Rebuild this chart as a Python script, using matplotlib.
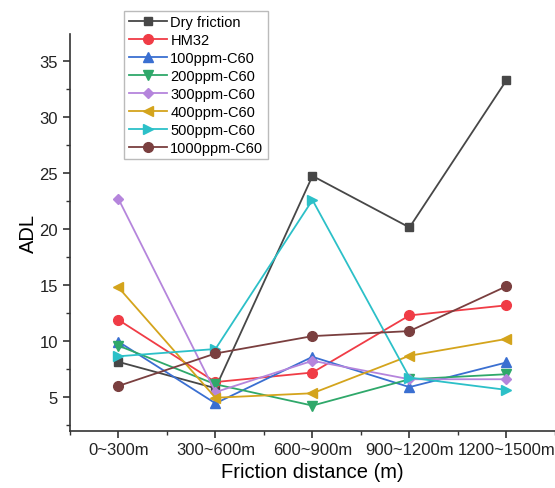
import numpy as np
from matplotlib import pyplot as plt
from matplotlib.ticker import MultipleLocator

plt.rcParams['font.family'] = ['Liberation Sans', 'DejaVu Sans']

#Data:
categories = ["0~300m", "300~600m", "600~900m", "900~1200m", "1200~1500m"]
dry = [8.15, 5.8, 24.75, 20.15, 33.3]
hm32 = [11.9, 6.35, 7.2, 12.3, 13.2]
c100 = [9.95, 4.45, 8.6, 5.9, 8.1]
c200 = [9.6, 6.15, 4.25, 6.6, 7.05]
c300 = [22.7, 5.45, 8.25, 6.6, 6.6]
c400 = [14.8, 4.95, 5.35, 8.7, 10.2]
c500 = [8.65, 9.3, 22.6, 6.75, 5.65]
c1000 = [6.0, 8.9, 10.45, 10.9, 14.9]

names = ["Dry friction", "HM32", "100ppm-C60", "200ppm-C60", "300ppm-C60",
         "400ppm-C60", "500ppm-C60", "1000ppm-C60"]
series = [dry, hm32, c100, c200, c300, c400, c500, c1000]
colors = ["#474747", "#f03c46", "#3a6fd1", "#2fa86a", "#b585dc",
          "#d4a41c", "#2cc0c8", "#7a3f3f"]
markers = ["s", "o", "^", "v", "D", "<", ">", "o"]
msizes = [5.5, 7, 7, 7, 5.5, 7, 7, 7]

fig = plt.figure(figsize=(5.55, 4.89), dpi=100)
ax = fig.add_axes([0.126, 0.117, 0.874, 0.811])

x = np.arange(len(categories))
for vals, name, c, m, ms in zip(series, names, colors, markers, msizes):
	ax.plot(x, vals, color=c, marker=m, markersize=ms, linewidth=1.3, label=name)

#Axes styling:
ax.set_xlim(-0.5, 4.5)
ax.set_ylim(2, 37.4)
ax.set_xticks(x)
ax.set_xticklabels(categories)
ax.xaxis.set_minor_locator(MultipleLocator(0.5))
ax.yaxis.set_minor_locator(MultipleLocator(2.5))
ax.set_yticks([5, 10, 15, 20, 25, 30, 35])
ax.spines['top'].set_visible(False)
ax.spines['right'].set_visible(False)
for s in ['left', 'bottom']:
	ax.spines[s].set_linewidth(1.2)
	ax.spines[s].set_color('#333333')
ax.tick_params(which='major', direction='out', length=5, width=1.2, labelsize=12, colors='#333333')
ax.tick_params(which='minor', direction='out', length=3, width=1.0, colors='#333333')
ax.tick_params(axis='both', labelcolor='#222222')
ax.tick_params(axis='x', pad=3)
ax.set_xlabel("Friction distance (m)", fontsize=14.5, labelpad=4)
ax.set_ylabel("ADL", fontsize=14.5, labelpad=1)

leg = ax.legend(loc='upper left', bbox_to_anchor=(0.224, 0.976), bbox_transform=fig.transFigure,
                fontsize=10.5, frameon=True, fancybox=False, handlelength=2.6,
                borderpad=0.3, labelspacing=0.27, handletextpad=0.25, borderaxespad=0)
leg.get_frame().set_edgecolor('#aaaaaa')
leg.get_frame().set_linewidth(1.0)

fig.savefig("out.png", dpi=100)
